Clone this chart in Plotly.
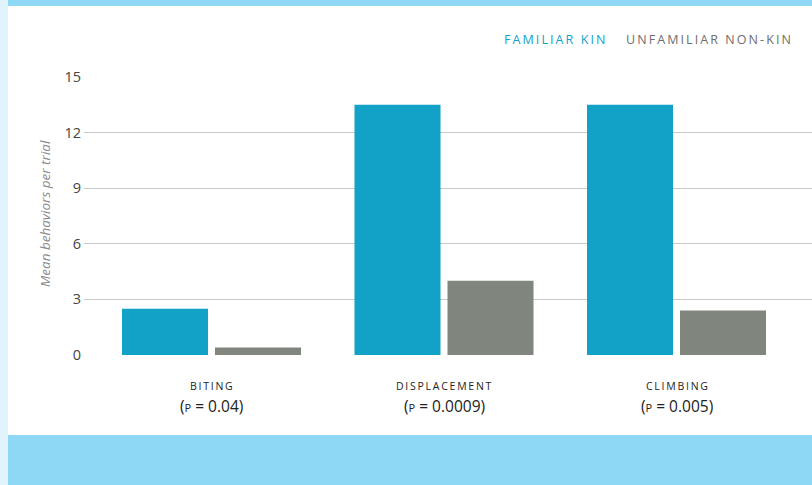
import plotly.graph_objects as go

categories = ["BITING", "DISPLACEMENT", "CLIMBING"]
p_values = ["0.04", "0.0009", "0.005"]
familiar_kin = [2.5, 13.5, 13.5]
unfamiliar_nonkin = [0.4, 4.0, 2.4]
series_names = ["FAMILIAR KIN", "UNFAMILIAR NON-KIN"]
y_ticks = [0, 3, 6, 9, 12, 15]

KIN = "#13A2C7"
NONKIN = "#80867E"
BAND = "#8ED8F5"
STRIP = "#E1F4FB"
FONT = "Open Sans"

def spaced(s, sep="\u200a"):
    return sep.join(list(s))

W, H = 812, 485
L, R, T, B = 84, 0, 77, 130
pw, ph = W - L - R, H - T - B

def px(x):
    return (x - L) / pw

def py(y):
    return (H - B - y) / ph

fig = go.Figure()
fig.add_bar(x=list(range(len(categories))), y=familiar_kin, name=series_names[0],
            marker=dict(color=KIN, line=dict(width=0)))
fig.add_bar(x=list(range(len(categories))), y=unfamiliar_nonkin, name=series_names[1],
            marker=dict(color=NONKIN, line=dict(width=0)))

shapes = [
    dict(type="rect", xref="paper", yref="paper", x0=px(0), x1=px(8), y0=py(H), y1=py(0),
         fillcolor=STRIP, line=dict(width=0), layer="below"),
    dict(type="rect", xref="paper", yref="paper", x0=px(8), x1=px(W), y0=py(6), y1=py(0),
         fillcolor=BAND, line=dict(width=0), layer="below"),
    dict(type="rect", xref="paper", yref="paper", x0=px(8), x1=px(W), y0=py(H), y1=py(435),
         fillcolor=BAND, line=dict(width=0), layer="below"),
]

annotations = []
for i, (c, p) in enumerate(zip(categories, p_values)):
    annotations.append(dict(x=i, xref="x", y=py(386), yref="paper", text=spaced(c, "\u2009"),
                            showarrow=False, font=dict(family=FONT, size=10.5, color="#222"),
                            xanchor="center", yanchor="middle"))
    annotations.append(dict(x=i, xref="x", y=py(406), yref="paper",
                            text="(<span style='font-size:11px'>P</span> = " + p + ")",
                            showarrow=False, font=dict(family=FONT, size=15.5, color="#222"),
                            xanchor="center", yanchor="middle"))

annotations.append(dict(x=px(45), y=py(214), xref="paper", yref="paper",
                        text="<i>Mean behaviors per trial</i>", textangle=-90, showarrow=False,
                        font=dict(family=FONT, size=13.5, color="#8A8A8A"),
                        xanchor="center", yanchor="middle"))
annotations.append(dict(x=px(607), y=py(40), xref="paper", yref="paper",
                        text=spaced(series_names[0], "\u2009"), showarrow=False,
                        font=dict(family=FONT, size=12.5, color=KIN),
                        xanchor="right", yanchor="middle"))
annotations.append(dict(x=px(624), y=py(40), xref="paper", yref="paper",
                        text=spaced(series_names[1], "\u2009"), showarrow=False,
                        font=dict(family=FONT, size=12.5, color="#6E6E6E"),
                        xanchor="left", yanchor="middle"))

fig.update_layout(
    width=W, height=H,
    margin=dict(l=L, r=R, t=T, b=B, pad=0),
    paper_bgcolor="white", plot_bgcolor="white",
    barmode="group", bargap=0.2, bargroupgap=0.075,
    showlegend=False,
    shapes=shapes, annotations=annotations,
    font=dict(family=FONT),
    xaxis=dict(range=[(L - 211.5) / 232.5, (W - 211.5) / 232.5], showticklabels=False,
               showgrid=False, zeroline=False, showline=False, fixedrange=True),
    yaxis=dict(range=[0, 15], tickvals=y_ticks, ticktext=[str(v) for v in y_ticks],
               showgrid=True, gridcolor="#C9C9C9", gridwidth=1, zeroline=False,
               showline=False, ticks="", ticklabelstandoff=2,
               tickfont=dict(family=FONT, size=14.5, color="#444")),
)

fig.write_html("out.html", config={"displayModeBar": False},
               post_script="document.body.style.margin='0';document.body.style.padding='0';")
